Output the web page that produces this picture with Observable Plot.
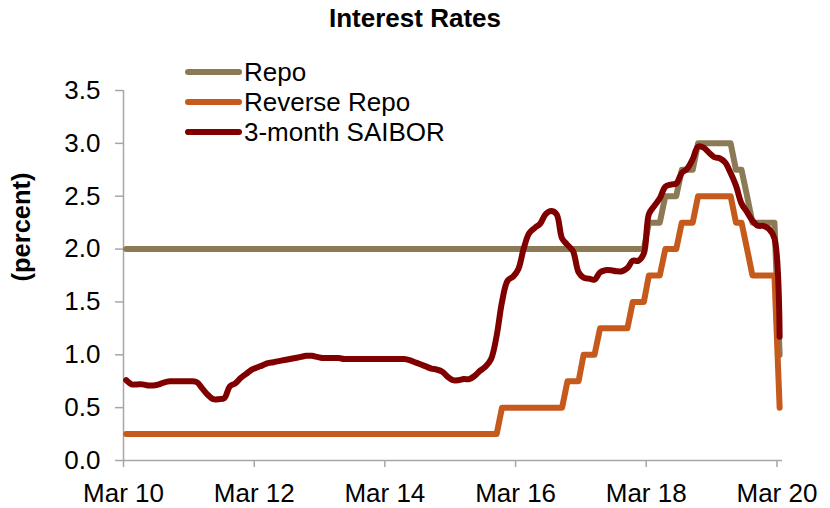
<!DOCTYPE html>
<html>
<head>
<meta charset="utf-8">
<script src="https://cdn.jsdelivr.net/npm/d3@7"></script>
<script src="https://cdn.jsdelivr.net/npm/@observablehq/plot@0.6"></script>
<style>
  body { margin: 0; background: white; }
  #wrap { position: relative; width: 830px; height: 508px; font-family: "Liberation Sans", Arial, sans-serif; }
  #title { height: 36px; line-height: 36px; text-align: center; font-size: 26px; font-weight: bold; color: black; }
  #legend { position: absolute; left: 185px; top: 57px; }
  .row { display: flex; align-items: center; height: 30px; }
  .sw { width: 57px; height: 6px; border-radius: 3px; }
  .lab { margin-left: 2px; font-size: 26px; line-height: 30px; color: black; white-space: nowrap; }
</style>
</head>
<body>
<div id="wrap">
  <div id="title"></div>
  <div id="chart"></div>
  <div id="legend"></div>
</div>
<script>
// ---- data (monthly, starting Mar 2010) ----
const chartTitle = "Interest Rates";
const yLabel = "(percent)";
const seriesNames = ["Repo", "Reverse Repo", "3-month SAIBOR"];
const seriesColors = ["#8c7a56", "#c55a1c", "#800000"];
const startYear = 2010, startMonth = 2; // March 2010

const repo = [
  2,2,2,2,2,2,2,2,2,2,2,2,
  2,2,2,2,2,2,2,2,2,2,2,2,
  2,2,2,2,2,2,2,2,2,2,2,2,
  2,2,2,2,2,2,2,2,2,2,2,2,
  2,2,2,2,2,2,2,2,2,2,2,2,
  2,2,2,2,2,2,2,2,2,2,2,2,
  2,2,2,2,2,2,2,2,2,2,2,2,
  2,2,2,2,2,2,2,2,2,2,2,2,
  2.25,2.25,2.25,2.5,2.5,2.5,2.75,2.75,2.75,3,3,3,
  3,3,3,3,2.75,2.75,2.5,2.25,2.25,2.25,2.25,2.25,
  1
];
const reverseRepo = [
  0.25,0.25,0.25,0.25,0.25,0.25,0.25,0.25,0.25,0.25,0.25,0.25,
  0.25,0.25,0.25,0.25,0.25,0.25,0.25,0.25,0.25,0.25,0.25,0.25,
  0.25,0.25,0.25,0.25,0.25,0.25,0.25,0.25,0.25,0.25,0.25,0.25,
  0.25,0.25,0.25,0.25,0.25,0.25,0.25,0.25,0.25,0.25,0.25,0.25,
  0.25,0.25,0.25,0.25,0.25,0.25,0.25,0.25,0.25,0.25,0.25,0.25,
  0.25,0.25,0.25,0.25,0.25,0.25,0.25,0.25,0.25,0.5,0.5,0.5,
  0.5,0.5,0.5,0.5,0.5,0.5,0.5,0.5,0.5,0.75,0.75,0.75,
  1,1,1,1.25,1.25,1.25,1.25,1.25,1.25,1.5,1.5,1.5,
  1.75,1.75,1.75,2,2,2,2.25,2.25,2.25,2.5,2.5,2.5,
  2.5,2.5,2.5,2.5,2.25,2.25,2,1.75,1.75,1.75,1.75,1.75,
  0.5
];
const saibor = [
  0.76,0.72,0.72,0.72,0.71,0.71,0.72,0.74,0.75,0.75,0.75,0.75,
  0.75,0.74,0.68,0.62,0.58,0.58,0.59,0.70,0.73,0.78,0.82,0.86,
  0.88,0.90,0.92,0.93,0.94,0.95,0.96,0.97,0.98,0.99,0.99,0.98,
  0.97,0.97,0.97,0.97,0.96,0.96,0.96,0.96,0.96,0.96,0.96,0.96,
  0.96,0.96,0.96,0.96,0.95,0.93,0.91,0.89,0.87,0.86,0.84,0.79,
  0.76,0.76,0.77,0.77,0.80,0.85,0.89,0.96,1.18,1.50,1.70,1.74,
  1.81,2.01,2.15,2.20,2.24,2.33,2.36,2.33,2.10,2.04,1.98,1.78,
  1.73,1.72,1.71,1.78,1.80,1.80,1.79,1.79,1.82,1.89,1.89,1.96,
  2.33,2.41,2.48,2.59,2.61,2.62,2.72,2.76,2.85,2.97,2.96,2.91,
  2.87,2.86,2.82,2.72,2.60,2.43,2.35,2.27,2.22,2.22,2.19,2.10,
  1.17
];
const yTickValues = [0, 0.5, 1, 1.5, 2, 2.5, 3, 3.5];
const xTickYears = [2010, 2012, 2014, 2016, 2018, 2020];
const xTickLabels = ["Mar 10", "Mar 12", "Mar 14", "Mar 16", "Mar 18", "Mar 20"];

// ---- build ----
const monthDate = i => new Date(Date.UTC(startYear, startMonth + i, 16));
const toRows = arr => arr.map((v, i) => ({date: monthDate(i), value: v}));
const allSeries = [repo, reverseRepo, saibor].map(toRows);
const xTicks = xTickYears.map(y => new Date(Date.UTC(y, 2, 1)));
const xDomain = [new Date(Date.UTC(2010, 2, 1)), new Date(Date.UTC(2020, 3, 1))];
const labelFor = d => xTickLabels[xTickYears.indexOf(d.getUTCFullYear())];

document.getElementById("title").textContent = chartTitle;
const legend = document.getElementById("legend");
seriesNames.forEach((n, i) => {
  const r = document.createElement("div"); r.className = "row";
  const s = document.createElement("div"); s.className = "sw"; s.style.background = seriesColors[i];
  const t = document.createElement("div"); t.className = "lab"; t.textContent = n;
  r.appendChild(s); r.appendChild(t); legend.appendChild(r);
});

const axisGray = "#a6a6a6";
const chart = Plot.plot({
  width: 830, height: 472,
  marginTop: 54, marginBottom: 48, marginLeft: 123, marginRight: 48,
  style: {fontFamily: "'Liberation Sans', Arial, sans-serif", fontSize: "26px", color: "black", background: "white", overflow: "visible"},
  x: {type: "utc", domain: xDomain},
  y: {domain: [0, 3.5]},
  marks: [
    Plot.axisY({ticks: yTickValues, tickFormat: d3.format(".1f"), tickSize: 8, tickPadding: 15, stroke: axisGray, strokeWidth: 1.5, fill: "black", label: null}),
    Plot.axisX({ticks: xTicks, tickFormat: labelFor, tickSize: 7, tickPadding: 16, stroke: axisGray, strokeWidth: 1.5, fill: "black", label: null}),
    Plot.ruleY([0], {stroke: axisGray, strokeWidth: 1.5}),
    Plot.ruleX([xDomain[0]], {stroke: axisGray, strokeWidth: 1.5}),
    Plot.line(allSeries[0], {x: "date", y: "value", stroke: seriesColors[0], strokeWidth: 6, strokeLinejoin: "round", strokeLinecap: "round"}),
    Plot.line(allSeries[1], {x: "date", y: "value", stroke: seriesColors[1], strokeWidth: 6, strokeLinejoin: "round", strokeLinecap: "round"}),
    Plot.line(allSeries[2], {x: "date", y: "value", stroke: seriesColors[2], strokeWidth: 6, strokeLinejoin: "round", strokeLinecap: "round", curve: "catmull-rom"}),
    Plot.text([yLabel], {frameAnchor: "left", dx: -102, dy: 6, rotate: -90, fontWeight: "bold", fontSize: 25.5, fill: "black"})
  ]
});
document.getElementById("chart").appendChild(chart);
</script>
</body>
</html>
